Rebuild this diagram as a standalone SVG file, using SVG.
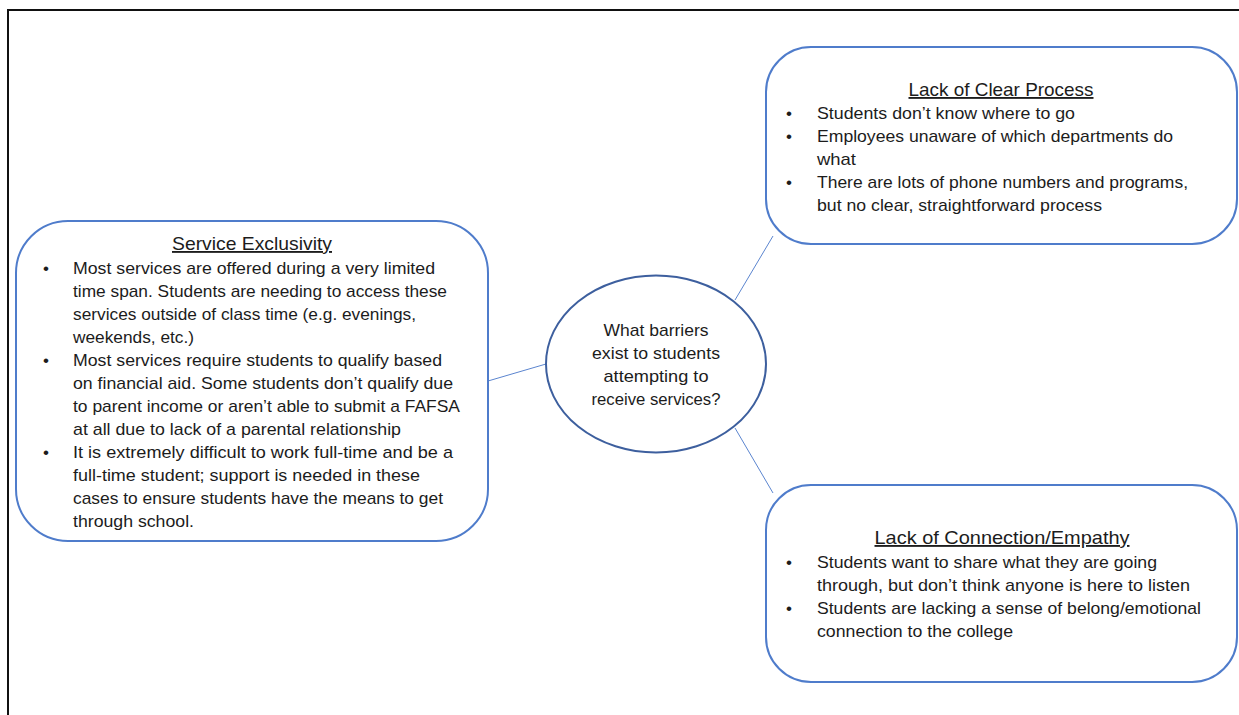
<svg xmlns="http://www.w3.org/2000/svg" width="1239" height="715" viewBox="0 0 1239 715">
  <style>
    .frame { fill: none; stroke: #111; stroke-width: 2; }
    .box { fill: #fff; stroke: #4f7ccb; stroke-width: 2; }
    .hub { fill: #fff; stroke: #3d5f9e; stroke-width: 2; }
    .link { stroke: #5b85cf; stroke-width: 1; fill: none; }
    text { font-family: "Liberation Sans", Arial, sans-serif; font-size: 17px; fill: #1c1c1c; }
    .title { text-decoration: underline; font-size: 18.5px; }
  </style>
  <rect width="1239" height="715" fill="#fff"/>
  <!-- page frame -->
  <path class="frame" d="M8,715 V10 H1239"/>

  <!-- connectors -->
  <g id="connectors">
    <line class="link" x1="488" y1="381" x2="546" y2="364"/>
    <line class="link" x1="735" y1="300" x2="773" y2="236"/>
    <line class="link" x1="735" y1="428" x2="773" y2="493"/>
  </g>

  <!-- central question -->
  <g id="hub">
    <ellipse class="hub" cx="656" cy="364" rx="110" ry="88.5"/>
    <text x="656" y="336" text-anchor="middle" textLength="105" lengthAdjust="spacingAndGlyphs">What barriers</text>
    <text x="656" y="359" text-anchor="middle" textLength="128" lengthAdjust="spacingAndGlyphs">exist to students</text>
    <text x="656" y="382" text-anchor="middle" textLength="105" lengthAdjust="spacingAndGlyphs">attempting to</text>
    <text x="656" y="405" text-anchor="middle" textLength="129" lengthAdjust="spacingAndGlyphs">receive services?</text>
  </g>

  <!-- left branch -->
  <g id="service-exclusivity">
    <rect class="box" x="16" y="221" width="472" height="320" rx="52" ry="52"/>
    <text class="title" x="252" y="250" text-anchor="middle" textLength="160" lengthAdjust="spacingAndGlyphs">Service Exclusivity</text>
    <text x="46" y="274" text-anchor="middle">•</text>
    <text x="73" y="274" textLength="362" lengthAdjust="spacingAndGlyphs">Most services are offered during a very limited</text>
    <text x="73" y="297" textLength="374" lengthAdjust="spacingAndGlyphs">time span. Students are needing to access these</text>
    <text x="73" y="320" textLength="343" lengthAdjust="spacingAndGlyphs">services outside of class time (e.g. evenings,</text>
    <text x="73" y="343" textLength="121" lengthAdjust="spacingAndGlyphs">weekends, etc.)</text>
    <text x="46" y="366" text-anchor="middle">•</text>
    <text x="73" y="366" textLength="369" lengthAdjust="spacingAndGlyphs">Most services require students to qualify based</text>
    <text x="73" y="389" textLength="380" lengthAdjust="spacingAndGlyphs">on financial aid. Some students don’t qualify due</text>
    <text x="73" y="412" textLength="387" lengthAdjust="spacingAndGlyphs">to parent income or aren’t able to submit a FAFSA</text>
    <text x="73" y="435" textLength="328" lengthAdjust="spacingAndGlyphs">at all due to lack of a parental relationship</text>
    <text x="46" y="458" text-anchor="middle">•</text>
    <text x="73" y="458" textLength="380" lengthAdjust="spacingAndGlyphs">It is extremely difficult to work full-time and be a</text>
    <text x="73" y="481" textLength="347" lengthAdjust="spacingAndGlyphs">full-time student; support is needed in these</text>
    <text x="73" y="504" textLength="370" lengthAdjust="spacingAndGlyphs">cases to ensure students have the means to get</text>
    <text x="73" y="527" textLength="121" lengthAdjust="spacingAndGlyphs">through school.</text>
  </g>

  <!-- upper right branch -->
  <g id="lack-of-clear-process">
    <rect class="box" x="766" y="47" width="471" height="197" rx="45" ry="45"/>
    <text class="title" x="1001" y="96" text-anchor="middle" textLength="185" lengthAdjust="spacingAndGlyphs">Lack of Clear Process</text>
    <text x="789" y="119" text-anchor="middle">•</text>
    <text x="817" y="119" textLength="258" lengthAdjust="spacingAndGlyphs">Students don’t know where to go</text>
    <text x="789" y="142" text-anchor="middle">•</text>
    <text x="817" y="142" textLength="356" lengthAdjust="spacingAndGlyphs">Employees unaware of which departments do</text>
    <text x="817" y="165" textLength="39" lengthAdjust="spacingAndGlyphs">what</text>
    <text x="789" y="188" text-anchor="middle">•</text>
    <text x="817" y="188" textLength="371" lengthAdjust="spacingAndGlyphs">There are lots of phone numbers and programs,</text>
    <text x="817" y="211" textLength="285" lengthAdjust="spacingAndGlyphs">but no clear, straightforward process</text>
  </g>

  <!-- lower right branch -->
  <g id="lack-of-connection">
    <rect class="box" x="766" y="485" width="471" height="197" rx="45" ry="45"/>
    <text class="title" x="1002" y="544" text-anchor="middle" textLength="255" lengthAdjust="spacingAndGlyphs">Lack of Connection/Empathy</text>
    <text x="789" y="568" text-anchor="middle">•</text>
    <text x="817" y="568" textLength="340" lengthAdjust="spacingAndGlyphs">Students want to share what they are going</text>
    <text x="817" y="591" textLength="373" lengthAdjust="spacingAndGlyphs">through, but don’t think anyone is here to listen</text>
    <text x="789" y="614" text-anchor="middle">•</text>
    <text x="817" y="614" textLength="384" lengthAdjust="spacingAndGlyphs">Students are lacking a sense of belong/emotional</text>
    <text x="817" y="637" textLength="196" lengthAdjust="spacingAndGlyphs">connection to the college</text>
  </g>
</svg>
